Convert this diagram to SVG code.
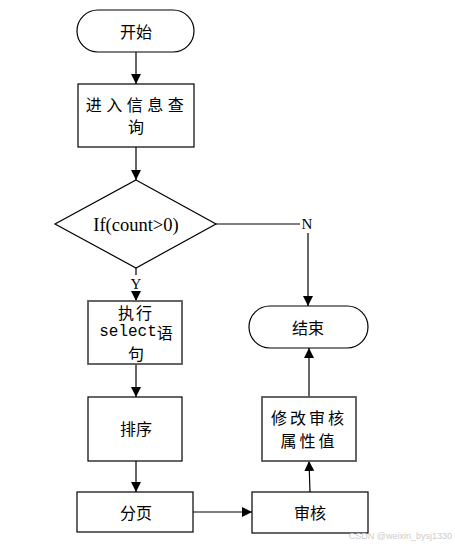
<svg xmlns="http://www.w3.org/2000/svg" width="455" height="547" viewBox="0 0 455 547">
<defs>
<style>
.n{fill:#fff;stroke:#000;stroke-width:1.2}
.g{fill:#fff;stroke:#555;stroke-width:1.8}
.t{font-family:"Noto Sans CJK SC","Liberation Sans",sans-serif;font-size:16px;fill:#000;text-anchor:middle;dominant-baseline:central}
.m{font-family:"Liberation Mono","Noto Sans CJK SC",monospace}
.s{font-family:"Liberation Serif",serif;fill:#000;text-anchor:middle;dominant-baseline:central}
.c{stroke:#000;stroke-width:1.2;fill:none}
</style>
<marker id="a" viewBox="0 0 10 10" refX="10" refY="5" markerWidth="10" markerHeight="10" markerUnits="userSpaceOnUse" orient="auto">
<path d="M0,0 L10,5 L0,10 Z" fill="#000"/>
</marker>
</defs>
<rect width="455" height="547" fill="#fff"/>
<g id="connectors">
<line class="c" x1="136" y1="52" x2="136" y2="84" marker-end="url(#a)"/>
<line class="c" x1="136" y1="147" x2="136" y2="180" marker-end="url(#a)"/>
<line class="c" x1="136" y1="268" x2="136" y2="275"/>
<line class="c" x1="136" y1="293" x2="136" y2="301" marker-end="url(#a)"/>
<line class="c" x1="216" y1="224" x2="300" y2="224"/>
<line class="c" x1="308" y1="233" x2="308" y2="306" marker-end="url(#a)"/>
<line class="c" x1="136" y1="364" x2="136" y2="397" marker-end="url(#a)"/>
<line class="c" x1="136" y1="461" x2="136" y2="492" marker-end="url(#a)"/>
<line class="c" x1="193" y1="512" x2="252" y2="512" marker-end="url(#a)"/>
<line class="c" x1="310" y1="492" x2="309" y2="461" marker-end="url(#a)"/>
<line class="c" x1="309" y1="397" x2="309" y2="348" marker-end="url(#a)"/>
<text class="s" x="136" y="284" font-size="15">Y</text>
<text class="s" x="307" y="224" font-size="15">N</text>
</g>
<g id="start">
<rect class="n" x="77" y="10" width="117" height="42" rx="21" ry="21"/>
<text class="t" x="136" y="31">开始</text>
</g>
<g id="query">
<rect class="n" x="78" y="84" width="116" height="63"/>
<text class="t" x="137" y="104" letter-spacing="4.5">进入信息查</text>
<text class="t" x="136" y="126">询</text>
</g>
<g id="decision">
<polygon class="n" points="136,180 216,224 136,268 55,224"/>
<text class="s" x="136" y="225" font-size="18.5">If(count&gt;0)</text>
</g>
<g id="select">
<rect class="g" x="88" y="301" width="94" height="63"/>
<text class="t" x="136" y="312" letter-spacing="2">执行</text>
<text class="t" x="136" y="332"><tspan class="m">select</tspan>语</text>
<text class="t" x="136" y="353">句</text>
</g>
<g id="sort">
<rect class="n" x="88" y="397" width="94" height="64"/>
<text class="t" x="136" y="428">排序</text>
</g>
<g id="page">
<rect class="n" x="77" y="492" width="116" height="40"/>
<text class="t" x="136" y="512">分页</text>
</g>
<g id="audit">
<rect class="n" x="252" y="492" width="116" height="41"/>
<text class="t" x="310" y="512">审核</text>
</g>
<g id="modify">
<rect class="g" x="262" y="397" width="94" height="64"/>
<text class="t" x="309" y="417" letter-spacing="3">修改审核</text>
<text class="t" x="309" y="440" letter-spacing="3">属性值</text>
</g>
<g id="end">
<rect class="n" x="249" y="306" width="119" height="42" rx="21" ry="21"/>
<text class="t" x="308" y="327">结束</text>
</g>
<text x="452" y="539" font-family="Liberation Sans,sans-serif" font-size="9" fill="#ccc" text-anchor="end">CSDN @weixin_bysj1330</text>
</svg>
